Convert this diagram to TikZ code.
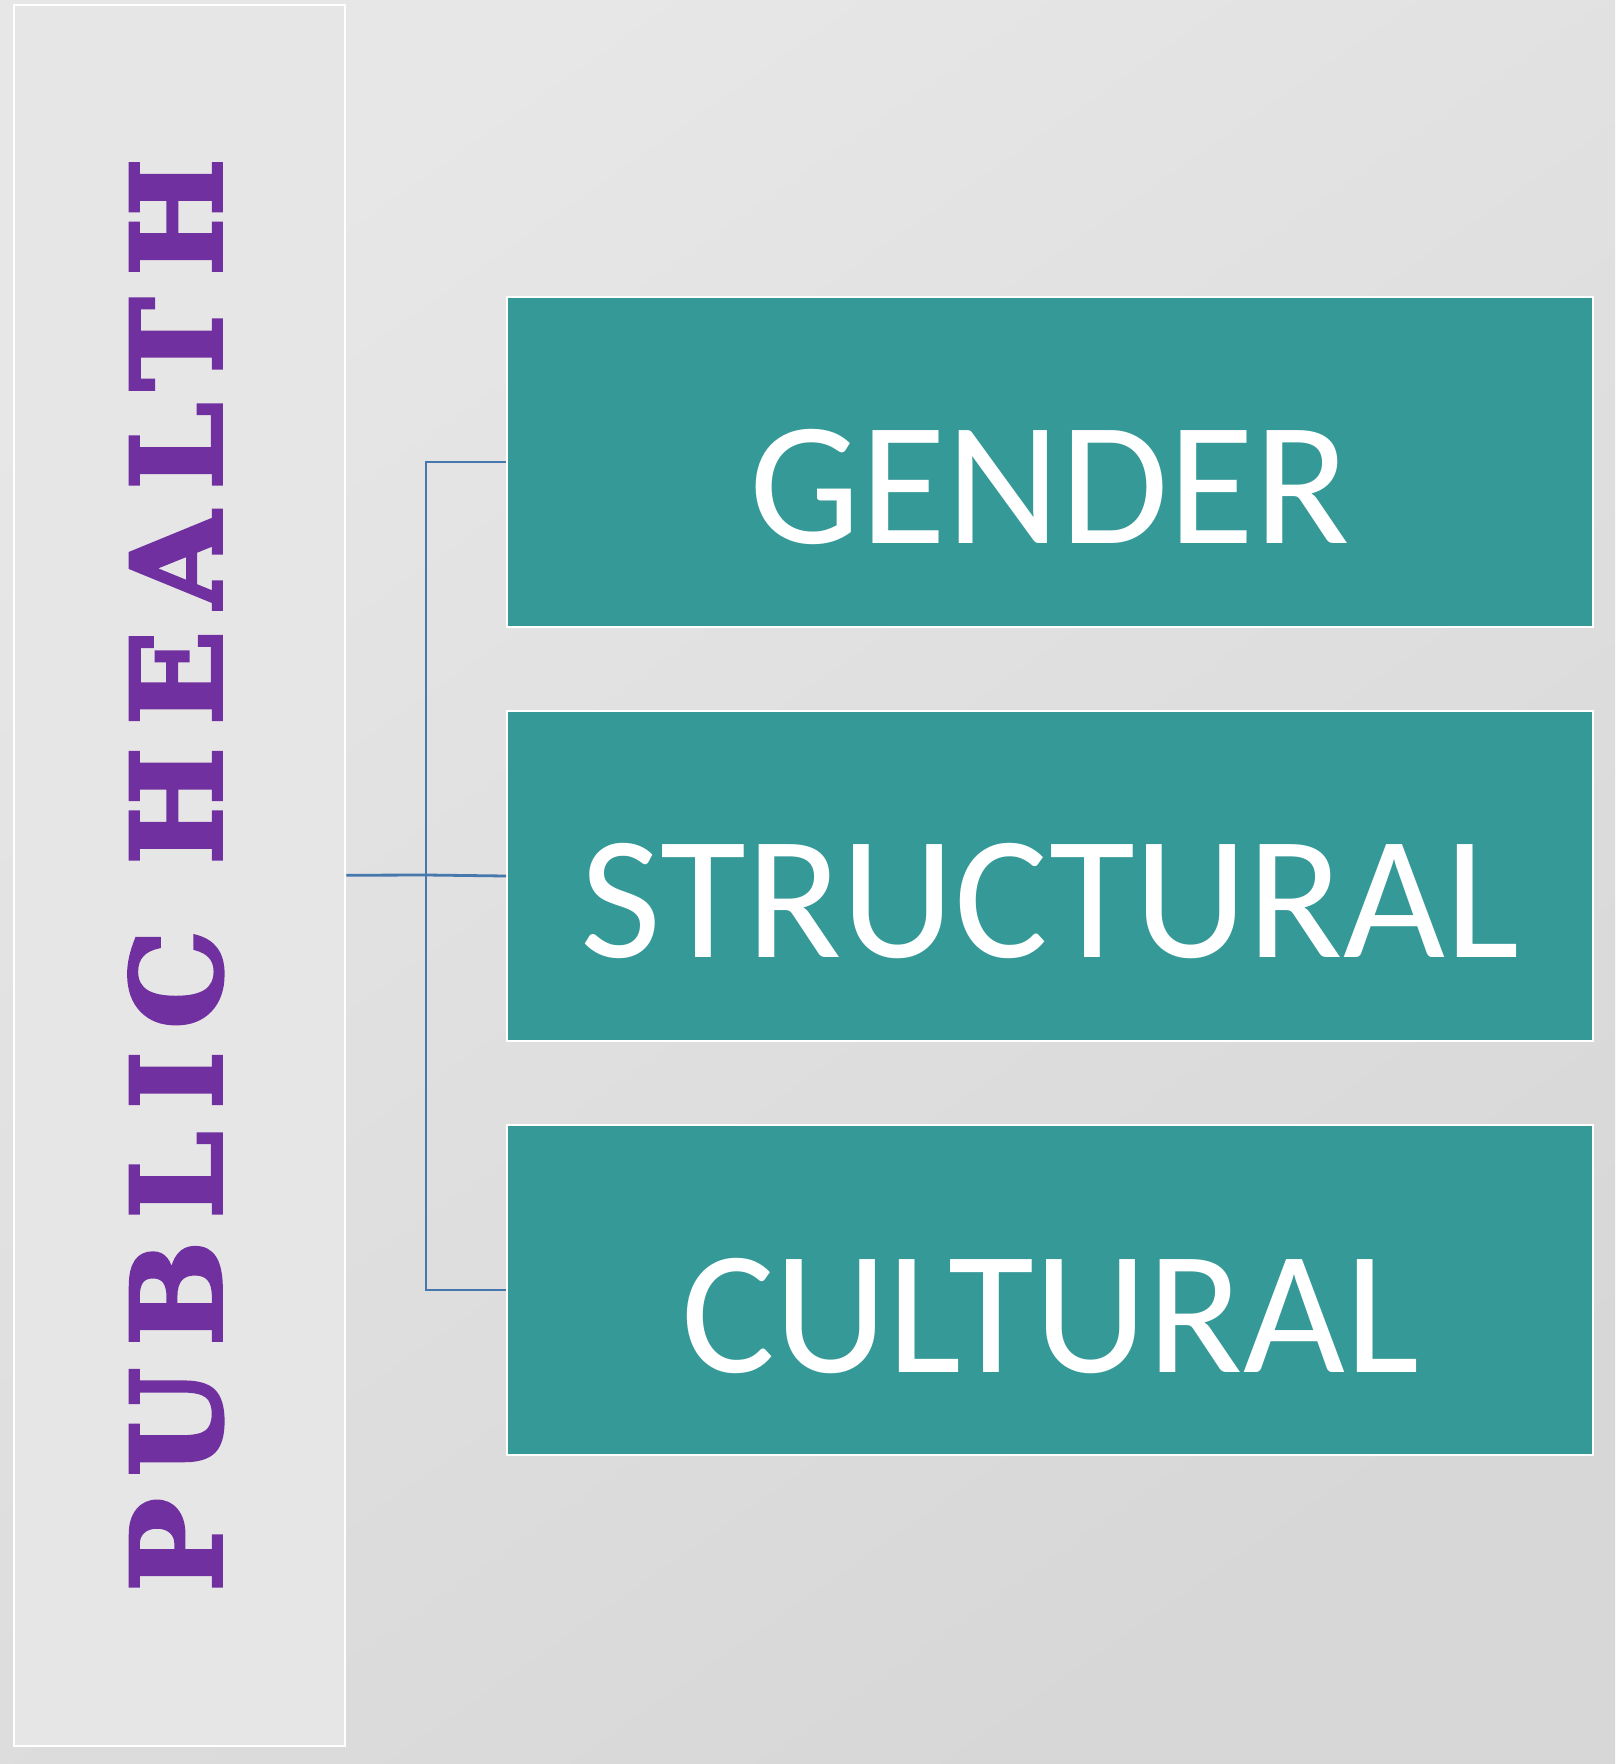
\documentclass[tikz,border=0pt]{standalone}
\usepackage{fontspec}
\setmainfont{Carlito}
\newfontfamily\phfont[LetterSpace=18,FakeBold=3]{DejaVu Serif Bold}
\definecolor{bgA}{HTML}{E7E7E7}
\definecolor{bgB}{HTML}{D7D7D7}
\definecolor{panelfill}{HTML}{E6E6E6}
\definecolor{teal}{HTML}{349997}
\definecolor{phpurple}{HTML}{7030A0}
\definecolor{linkblue}{HTML}{4677AD}
\tikzset{
  panel/.style={draw=white, line width=2.5pt, fill=panelfill, inner sep=0pt, minimum width=331pt, minimum height=1741pt},
  catbox/.style={draw=white, line width=2pt, fill=teal, inner sep=0pt, minimum width=1086pt, minimum height=330pt},
  cattext/.style={text=white, font=\fontsize{176}{182}\selectfont, anchor=base},
  phtext/.style={text=phpurple, font=\phfont\fontsize{124}{134}\selectfont, anchor=base, rotate=90},
  link/.style={draw=linkblue, line width=2.8pt}
}
\begin{document}
\begin{tikzpicture}[x=1pt,y=-1pt]
\useasboundingbox (0,0) rectangle (1615,1764);
\shade[top color=bgA, bottom color=bgB, shading angle=35] (0,0) rectangle (1615,1764);
\node[panel] (ph) at (179.5,875.25) {};
\node[phtext] (pht) at (221,875) {PUBLIC HEALTH};
\node[catbox] (g) at (1050,462) {};
\node[catbox] (s) at (1050,876) {};
\node[catbox] (c) at (1050,1290) {};
\node[cattext] (gt) at (1050,543) {GENDER};
\node[cattext] (st) at (1050,957) {STRUCTURAL};
\node[cattext] (ct) at (1050,1372) {CULTURAL};
\coordinate (j) at (426,875);
\draw[link] (ph.east) -- (j) -- (s.west);
\draw[link] (g.west) -| (j) |- (c.west);
\end{tikzpicture}
\end{document}
